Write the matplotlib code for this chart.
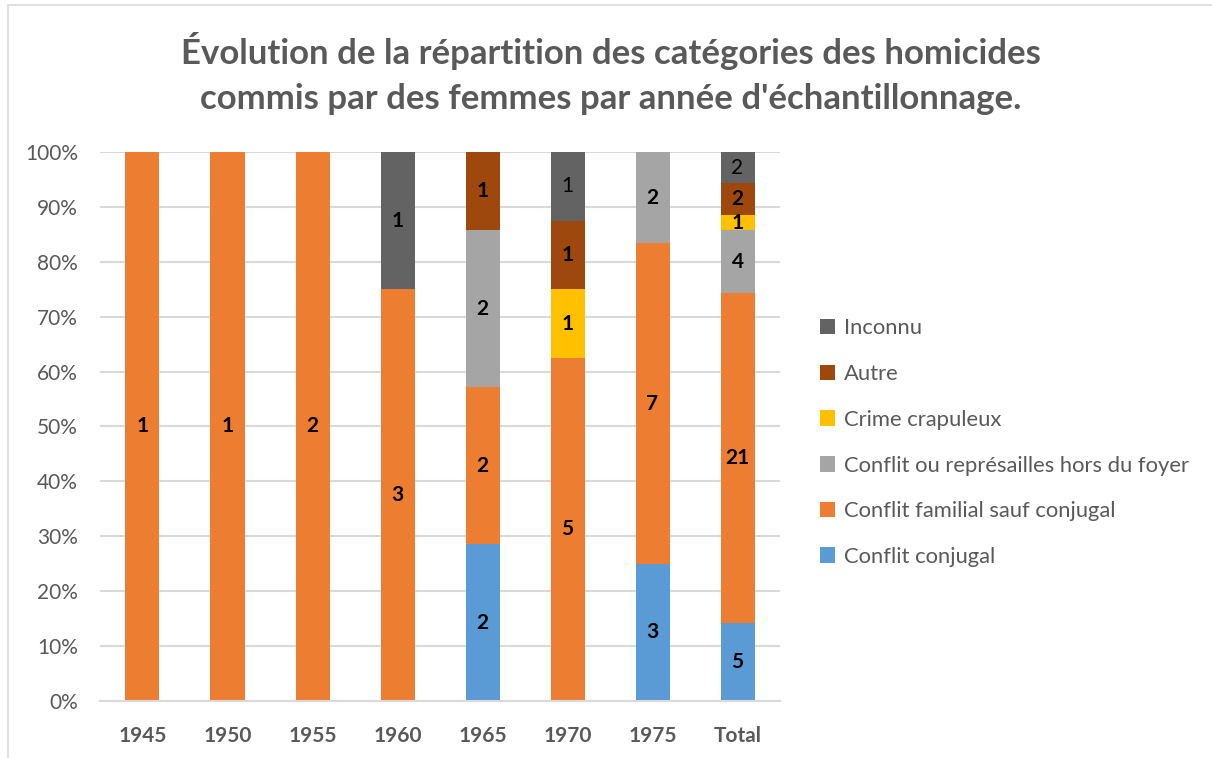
import matplotlib.pyplot as plt
import numpy as np

plt.rcParams['font.family'] = ['Lato', 'DejaVu Sans']

annees = ["1945", "1950", "1955", "1960", "1965", "1970", "1975", "Total"]
categories = ["Conflit conjugal", "Conflit familial sauf conjugal",
              "Conflit ou représailles hors du foyer", "Crime crapuleux",
              "Autre", "Inconnu"]
conjugal = [0, 0, 0, 0, 2, 0, 3, 5]
familial = [1, 1, 2, 3, 2, 5, 7, 21]
hors_foyer = [0, 0, 0, 0, 2, 0, 2, 4]
crapuleux = [0, 0, 0, 0, 0, 1, 0, 1]
autre = [0, 0, 0, 0, 1, 1, 0, 2]
inconnu = [0, 0, 0, 1, 0, 1, 0, 2]
couleurs = ["#5B9BD5", "#ED7D31", "#A5A5A5", "#FFC000", "#9E480E", "#636363"]

series = np.array([conjugal, familial, hors_foyer, crapuleux, autre, inconnu], dtype=float)
totaux = series.sum(axis=0)
pct = series / totaux

fig = plt.figure(figsize=(12.12, 7.58), dpi=100)
ax = fig.add_axes([0.0825, 0.0752, 0.5611, 0.7243])
x = np.arange(len(annees))
bas = np.zeros(len(annees))
handles = []
for i, nom in enumerate(categories):
    b = ax.bar(x, pct[i], 0.4, bottom=bas, color=couleurs[i], label=nom, zorder=2)
    handles.append(b)
    for j in range(len(annees)):
        if series[i, j] > 0:
            # les étiquettes "Inconnu" de 1970 et Total ne sont pas en gras
            poids = 'normal' if (i == 5 and j in (5, 7)) else 'bold'
            ax.text(x[j], bas[j] + pct[i, j] / 2, "%d" % series[i, j],
                    ha='center', va='center', fontsize=15, fontweight=poids,
                    color='black', zorder=3)
    bas += pct[i]

ax.set_xlim(-0.5, len(annees) - 0.5)
ax.set_ylim(0, 1)
ax.set_yticks(np.arange(0, 1.01, 0.1))
ax.set_yticklabels(["%d%%" % v for v in range(0, 101, 10)], fontsize=15, color='#595959')
ax.set_xticks(x)
ax.set_xticklabels(annees, fontsize=15, fontweight='bold', color='#595959')
ax.tick_params(length=0, pad=18)
ax.tick_params(axis='y', pad=16)
ax.grid(axis='y', color='#D9D9D9', lw=1.5, zorder=0)
for s in ['top', 'right', 'left']:
    ax.spines[s].set_visible(False)
ax.spines['bottom'].set_color('#D9D9D9')
ax.spines['bottom'].set_linewidth(1.5)

fig.text(0.504, 0.903, "Évolution de la répartition des catégories des homicides\ncommis par des femmes par année d'échantillonnage.",
         ha='center', va='center', fontsize=25, fontweight='bold', color='#595959', linespacing=1.5)

leg = fig.legend(handles[::-1], categories[::-1], loc='center left',
                 bbox_to_anchor=(0.66, 0.416), frameon=False, fontsize=15.8,
                 handlelength=0.7, handleheight=0.7, handletextpad=0.4,
                 labelspacing=1.17, labelcolor='#595959')

# cadre du graphique
fig.patches.append(plt.Rectangle((0.007, -0.01), 0.995, 1.003, transform=fig.transFigure,
                                 fill=False, edgecolor='#D9D9D9', lw=1.2))

fig.savefig("out.png", dpi=100)
